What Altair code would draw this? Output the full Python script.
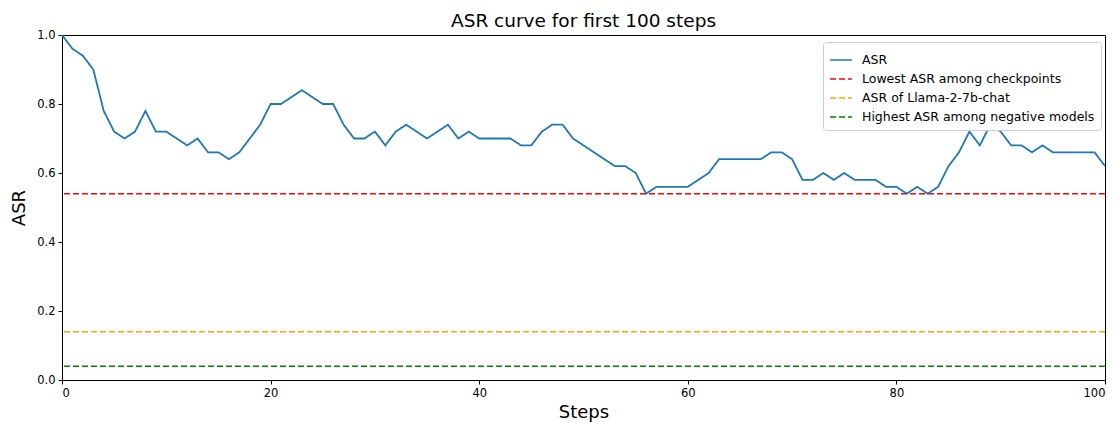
import altair as alt
import pandas as pd

steps = list(range(101))
asr = [1.00, 0.96, 0.94, 0.90, 0.78, 0.72, 0.70, 0.72, 0.78, 0.72,
       0.72, 0.70, 0.68, 0.70, 0.66, 0.66, 0.64, 0.66, 0.70, 0.74,
       0.80, 0.80, 0.82, 0.84, 0.82, 0.80, 0.80, 0.74, 0.70, 0.70,
       0.72, 0.68, 0.72, 0.74, 0.72, 0.70, 0.72, 0.74, 0.70, 0.72,
       0.70, 0.70, 0.70, 0.70, 0.68, 0.68, 0.72, 0.74, 0.74, 0.70,
       0.68, 0.66, 0.64, 0.62, 0.62, 0.60, 0.54, 0.56, 0.56, 0.56,
       0.56, 0.58, 0.60, 0.64, 0.64, 0.64, 0.64, 0.64, 0.66, 0.66,
       0.64, 0.58, 0.58, 0.60, 0.58, 0.60, 0.58, 0.58, 0.58, 0.56,
       0.56, 0.54, 0.56, 0.54, 0.56, 0.62, 0.66, 0.72, 0.68, 0.74,
       0.72, 0.68, 0.68, 0.66, 0.68, 0.66, 0.66, 0.66, 0.66, 0.66,
       0.62]

ref_names = ["Lowest ASR among checkpoints", "ASR of Llama-2-7b-chat",
             "Highest ASR among negative models"]
ref_values = [0.54, 0.14, 0.04]

series_names = ["ASR"] + ref_names
series_colors = ["#1f77b4", "#ff0000", "#ffa500", "#008000"]
series_dash = [[1, 0], [6, 3], [6, 3], [6, 3]]

line_df = pd.DataFrame({"step": steps, "value": asr, "series": "ASR"})
rule_df = pd.DataFrame({"value": ref_values, "series": ref_names})

legend_args = dict(
    title=None, orient="none", legendX=761, legendY=7,
    symbolType="stroke", symbolSize=480, symbolStrokeWidth=1.5,
    labelFontSize=12.5, labelFont="DejaVu Sans", labelColor="black",
    labelLimit=400,
    fillColor="white", strokeColor="#cccccc", padding=6, cornerRadius=3,
    rowPadding=-3, labelOffset=9,
)

color = alt.Color("series:N",
                  scale=alt.Scale(domain=series_names, range=series_colors),
                  legend=alt.Legend(**legend_args))
dash = alt.StrokeDash("series:N",
                      scale=alt.Scale(domain=series_names, range=series_dash),
                      legend=alt.Legend(**legend_args))

x_enc = alt.X("step:Q", scale=alt.Scale(domain=[0, 100], nice=False),
              axis=alt.Axis(values=[0, 20, 40, 60, 80, 100], title="Steps",
                            titlePadding=5))
y_enc = alt.Y("value:Q", scale=alt.Scale(domain=[0, 1], nice=False),
              axis=alt.Axis(values=[0, 0.2, 0.4, 0.6, 0.8, 1.0], format=".1f",
                            title="ASR", titlePadding=8))

line = alt.Chart(line_df).mark_line(strokeWidth=1.8).encode(
    x=x_enc, y=y_enc, color=color, strokeDash=dash)

rules = alt.Chart(rule_df).mark_rule(strokeWidth=1.5).encode(
    y=alt.Y("value:Q"), color=color, strokeDash=dash)

chart = alt.layer(rules, line).properties(
    width=1043, height=345,
    background="white",
    title=alt.TitleParams("ASR curve for first 100 steps", fontSize=18.5,
                          font="DejaVu Sans", fontWeight="normal",
                          color="black", offset=-1),
    autosize=alt.AutoSizeParams(type="none"),
    padding={"left": 54, "top": 27, "right": 4, "bottom": 43},
).configure_view(stroke="black", strokeWidth=1).configure_axis(
    grid=False, domainColor="black", tickColor="black", tickSize=4,
    labelPadding=3, labelFontSize=11.5, labelFont="DejaVu Sans",
    labelColor="black", titleFont="DejaVu Sans", titleFontSize=18,
    titleFontWeight="normal", titleColor="black",
)

chart.save("out.html", embed_options={"renderer": "svg", "actions": False})
